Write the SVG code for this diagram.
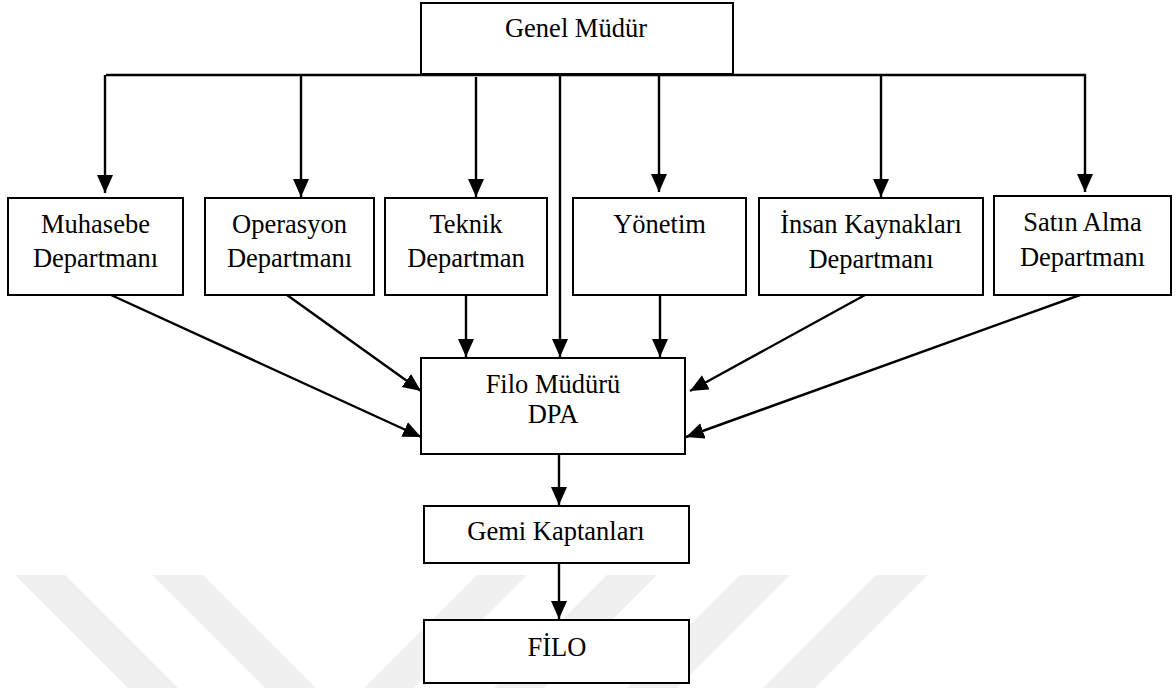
<svg xmlns="http://www.w3.org/2000/svg" width="1176" height="688" viewBox="0 0 1176 688">
<style>
.box{fill:#fff;stroke:#000;stroke-width:2}
.lbl{font-family:"Liberation Serif","Times New Roman",serif;font-size:26.5px;fill:#000;text-anchor:middle}
.ln{stroke:#000;stroke-width:2.4;fill:none}
.arr{stroke:#000;stroke-width:2.4;fill:none;marker-end:url(#ah)}
.wm{fill:#f0f0f0}
</style>
<defs>
<marker id="ah" markerUnits="userSpaceOnUse" markerWidth="19" markerHeight="17" refX="18" refY="8" orient="auto" viewBox="0 0 19 17">
<path d="M0,0 L18,8 L0,16 z" fill="#000"/>
</marker>
</defs>
<rect width="1176" height="688" fill="#fff"/>
<g id="watermark">
<polygon class="wm" points="15,575 65,575 178,688 128,688"/>
<polygon class="wm" points="152,575 203,575 316,688 265,688"/>
<polygon class="wm" points="477,575 527,575 414,688 364,688"/>
<polygon class="wm" points="607,575 657,575 544,688 494,688"/>
<polygon class="wm" points="740,575 790,575 677,688 627,688"/>
<polygon class="wm" points="876,575 928,575 815,688 763,688"/>
</g>
<g id="connectors">
<polyline class="ln" points="106,75 1086,75"/>
<line class="arr" x1="105" y1="75" x2="105" y2="193"/>
<line class="arr" x1="301" y1="75" x2="301" y2="197"/>
<line class="arr" x1="476" y1="77" x2="476" y2="197"/>
<line class="arr" x1="659" y1="75" x2="659" y2="192"/>
<line class="arr" x1="881" y1="75" x2="881" y2="197"/>
<line class="arr" x1="1085" y1="74" x2="1085" y2="192"/>
<line class="arr" x1="560" y1="75" x2="560" y2="357"/>
<line class="arr" x1="111" y1="295" x2="421" y2="437"/>
<line class="arr" x1="287" y1="295" x2="421" y2="391"/>
<line class="arr" x1="466" y1="295" x2="466" y2="357"/>
<line class="arr" x1="660" y1="295" x2="660" y2="357"/>
<line class="arr" x1="865" y1="295" x2="690" y2="391"/>
<line class="arr" x1="1080" y1="295" x2="686" y2="437"/>
<line class="arr" x1="559" y1="454" x2="559" y2="505"/>
<line class="arr" x1="559" y1="563" x2="559" y2="619"/>
</g>
<g id="genel-mudur">
<rect class="box" x="421" y="3" width="312" height="71"/>
<text class="lbl" x="576" y="37">Genel Müdür</text>
</g>
<g id="muhasebe">
<rect class="box" x="8" y="198" width="175" height="97"/>
<text class="lbl" x="95.5" y="233">Muhasebe</text>
<text class="lbl" x="95.5" y="267">Departmanı</text>
</g>
<g id="operasyon">
<rect class="box" x="205" y="198" width="169" height="97"/>
<text class="lbl" x="289.5" y="233">Operasyon</text>
<text class="lbl" x="289.5" y="267">Departmanı</text>
</g>
<g id="teknik">
<rect class="box" x="385" y="198" width="162" height="97"/>
<text class="lbl" x="466" y="233">Teknik</text>
<text class="lbl" x="466" y="267">Departman</text>
</g>
<g id="yonetim">
<rect class="box" x="573" y="198" width="173" height="97"/>
<text class="lbl" x="659.5" y="233">Yönetim</text>
</g>
<g id="insan-kaynaklari">
<rect class="box" x="759" y="198" width="224" height="97"/>
<text class="lbl" x="871" y="233">İnsan Kaynakları</text>
<text class="lbl" x="871" y="268">Departmanı</text>
</g>
<g id="satin-alma">
<rect class="box" x="994" y="196" width="177" height="99"/>
<text class="lbl" x="1082.5" y="231">Satın Alma</text>
<text class="lbl" x="1082.5" y="266">Departmanı</text>
</g>
<g id="filo-muduru">
<rect class="box" x="421" y="358" width="264" height="96"/>
<text class="lbl" x="553" y="393">Filo Müdürü</text>
<text class="lbl" x="553" y="423">DPA</text>
</g>
<g id="gemi-kaptanlari">
<rect class="box" x="424" y="506" width="265" height="57"/>
<text class="lbl" x="556" y="540">Gemi Kaptanları</text>
</g>
<g id="filo">
<rect class="box" x="424" y="620" width="265" height="63"/>
<text class="lbl" x="557" y="656">FİLO</text>
</g>
</svg>
